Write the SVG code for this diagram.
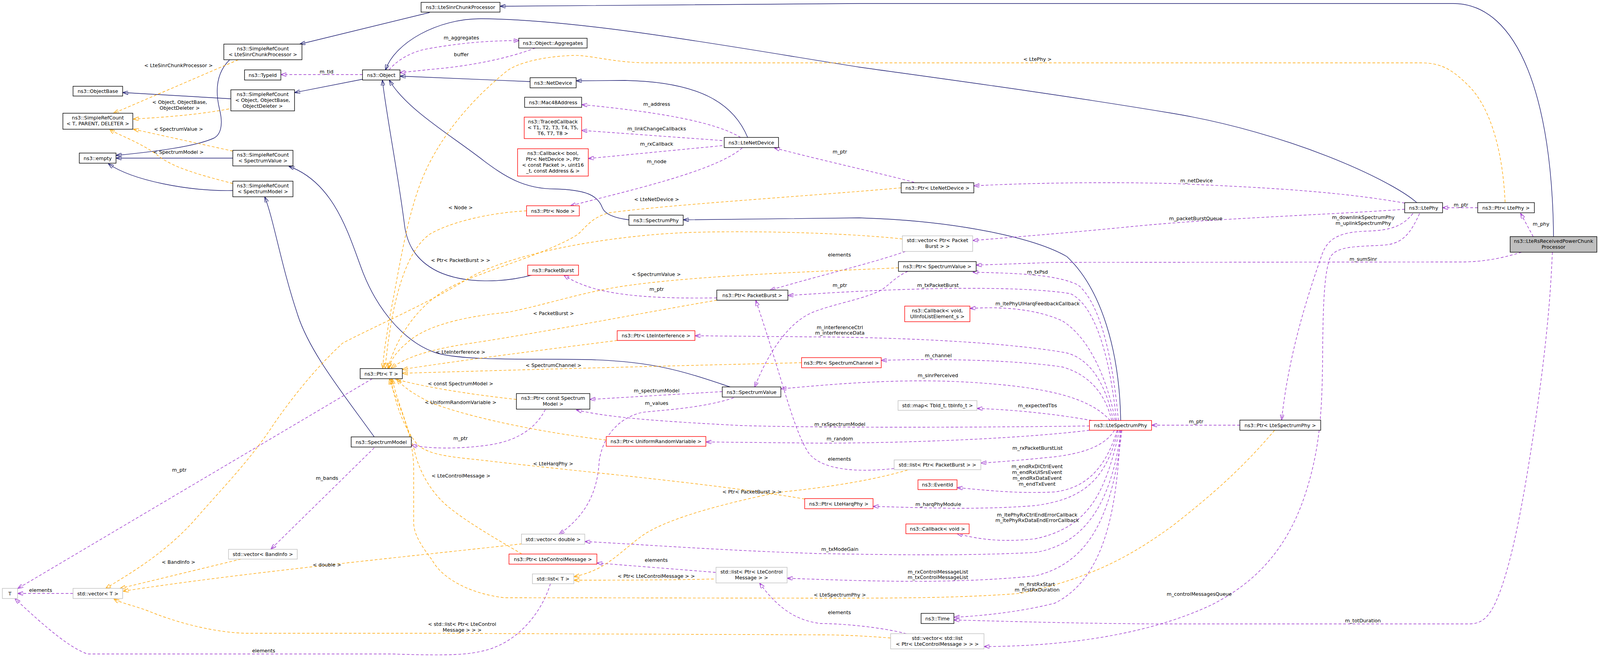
<svg xmlns="http://www.w3.org/2000/svg" width="4251" height="1693" viewBox="0 0 4251 1693">
<style>
text{font-family:"DejaVu Sans","Liberation Sans",sans-serif;font-size:12.7px;fill:#000;text-anchor:middle}
rect{fill:#fff;stroke-width:1.4}
.nb{stroke:#000}
.nr{stroke:#ff0000}
.ng{stroke:#bfbfbf}
.root{fill:#bfbfbf;stroke:#000}
path{fill:none;stroke-width:1.4}
.i{stroke:#191970;marker-end:url(#ai)}
.u{stroke:#9a32cd;stroke-dasharray:7,5;marker-end:url(#au)}
.t{stroke:#ffa500;stroke-dasharray:7,5;marker-end:url(#at)}
</style>
<defs>
<marker id="ai" markerWidth="14" markerHeight="10" refX="13" refY="5" orient="auto" markerUnits="userSpaceOnUse"><path d="M0,0L14,5L0,10z" fill="#191970" stroke="#191970" stroke-width="1"/></marker>
<marker id="au" markerWidth="14" markerHeight="10" refX="13" refY="5" orient="auto" markerUnits="userSpaceOnUse"><path d="M0,0L14,5L0,10z" fill="#9a32cd" stroke="#9a32cd" stroke-width="1"/></marker>
<marker id="at" markerWidth="14" markerHeight="10" refX="13" refY="5" orient="auto" markerUnits="userSpaceOnUse"><path d="M0,0L14,5L0,10z" fill="#ffa500" stroke="#ffa500" stroke-width="1"/></marker>
</defs>
<rect x="0" y="0" width="4251" height="1693" style="fill:#fff;stroke:none"/>
<g id="connectors">
<!-- inheritance -->
<path class="i" d="M3977,606 C3974,260 3890,9 3720,9 L2200,9 L1281,16"/>
<path class="i" d="M1100,32 L768,113"/>
<path class="i" d="M588,153 C555,185 550,230 562,280 C572,320 565,345 547,354 C500,375 400,388 298,398"/>
<path class="i" d="M591,253 L315,237"/>
<path class="i" d="M928,203 L755,237"/>
<path class="i" d="M596,405 L298,405"/>
<path class="i" d="M596,488 C480,490 340,462 278,420"/>
<path class="i" d="M1357,209 L1025,195"/>
<path class="i" d="M1914,352 C1880,270 1800,210 1600,206 L1476,207"/>
<path class="i" d="M3627,519 C3560,460 3300,340 3000,290 C2700,240 2400,200 2200,172 C1900,125 1500,50 1233,48 C1120,47 1010,110 987,179"/>
<path class="i" d="M1610,563 C1570,558 1548,548 1542,532 C1530,500 1500,486 1420,484 C1340,484 1290,450 1240,413 C1160,350 1040,280 997,206"/>
<path class="i" d="M2869,1077 C2866,900 2820,740 2731,657 C2650,610 2450,565 2200,558 L1750,563"/>
<path class="i" d="M1364,704 C1290,724 1190,728 1120,695 C1060,665 1042,620 1036,580 C1020,450 990,300 979,206"/>
<path class="i" d="M1869,991 C1760,955 1680,925 1502,921 C1350,918 1200,925 1120,905 C1040,880 970,800 930,700 C895,610 860,470 740,426"/>
<path class="i" d="M958,1119 C880,1010 790,900 760,800 C720,680 700,560 678,505"/>
<!-- usage -->
<path class="u" d="M928,191 L720,191"/>
<path class="u" d="M996,179 C1020,150 1060,130 1100,124 C1180,110 1250,104 1328,104"/>
<path class="u" d="M1370,123 C1300,150 1200,170 1100,178 L1025,186"/>
<path class="u" d="M1896,352 C1840,318 1720,290 1490,268"/>
<path class="u" d="M1849,360 L1490,334"/>
<path class="u" d="M1849,373 L1507,406"/>
<path class="u" d="M1900,379 C1830,440 1600,490 1461,527"/>
<path class="u" d="M2340,467 C2280,450 2100,410 1983,379"/>
<path class="u" d="M3596,520 C3450,495 3300,482 3000,470 C2800,465 2600,470 2494,476"/>
<path class="u" d="M3596,536 C3400,550 3100,560 2900,580 C2750,595 2600,607 2491,616"/>
<path class="u" d="M3617,547 C3590,580 3560,590 3500,592 C3430,594 3400,610 3385,650 C3350,750 3300,900 3281,1075"/>
<path class="u" d="M3634,547 C3610,600 3590,625 3540,628 C3470,632 3420,630 3405,660 C3390,700 3387,780 3386,900 C3385,1050 3380,1150 3340,1270 C3290,1420 3200,1500 3100,1550 C2950,1620 2750,1655 2520,1656"/>
<path class="u" d="M3925,606 L3893,547"/>
<path class="u" d="M3783,532 L3694,532"/>
<path class="u" d="M3895,646 C3850,660 3800,671 3740,671 L2700,672 L2500,679"/>
<path class="u" d="M3974,646 C3968,800 3950,950 3925,1116 C3900,1280 3870,1450 3830,1540 C3810,1585 3790,1598 3760,1598 L3000,1598 C2800,1598 2600,1592 2443,1588"/>
<path class="u" d="M2863,1077 C2850,930 2820,780 2760,730 C2700,700 2580,700 2491,697"/>
<path class="u" d="M2858,1077 C2840,900 2800,780 2740,752 C2600,730 2300,737 2018,757"/>
<path class="u" d="M2855,1077 C2830,950 2780,860 2720,822 C2650,790 2560,785 2484,790"/>
<path class="u" d="M2850,1077 C2830,980 2790,920 2731,904 C2600,880 2350,865 2100,863 L1780,860"/>
<path class="u" d="M2846,1077 C2830,1010 2790,960 2720,940 C2600,922 2400,918 2257,923"/>
<path class="u" d="M2842,1077 C2800,1030 2720,1000 2560,985 C2400,970 2250,972 2000,996"/>
<path class="u" d="M2795,1077 C2700,1060 2600,1050 2502,1046"/>
<path class="u" d="M2789,1091 C2500,1095 2100,1096 1900,1090 C1700,1080 1560,1070 1476,1050"/>
<path class="u" d="M2789,1102 C2600,1125 2300,1135 2100,1135 L1808,1132"/>
<path class="u" d="M2853,1102 C2830,1140 2780,1160 2700,1170 C2620,1178 2560,1183 2512,1186"/>
<path class="u" d="M2860,1102 C2830,1200 2780,1250 2700,1260 C2600,1265 2520,1255 2451,1249"/>
<path class="u" d="M2862,1102 C2830,1240 2760,1280 2650,1295 C2500,1307 2350,1300 2236,1297"/>
<path class="u" d="M2866,1102 C2830,1260 2790,1350 2650,1380 C2560,1390 2500,1380 2451,1367"/>
<path class="u" d="M2870,1102 C2850,1250 2800,1390 2650,1415 C2450,1425 2250,1420 2100,1418 C1850,1410 1650,1395 1498,1387"/>
<path class="u" d="M2872,1102 C2850,1300 2800,1440 2650,1475 C2450,1495 2250,1490 2016,1481"/>
<path class="u" d="M2868,1102 C2860,1300 2830,1480 2700,1545 C2600,1570 2500,1578 2443,1581"/>
<path class="u" d="M3174,1089 L2949,1089"/>
<path class="u" d="M1835,763 C1700,765 1580,760 1502,733 C1470,722 1455,712 1444,705"/>
<path class="u" d="M2318,644 C2230,675 2100,705 1972,743"/>
<path class="u" d="M2289,1200 C2180,1212 2100,1200 2070,1160 C2030,1100 2000,960 1935,770"/>
<path class="u" d="M2324,695 C2285,712 2270,740 2243,749 C2200,768 2130,780 2080,800 C2010,830 1960,920 1932,991"/>
<path class="u" d="M1849,1003 L1511,1023"/>
<path class="u" d="M1878,1019 C1800,1045 1700,1050 1645,1056 C1590,1068 1545,1110 1534,1180 C1530,1260 1500,1320 1432,1368"/>
<path class="u" d="M1396,1049 C1370,1100 1320,1130 1250,1140 C1180,1150 1100,1150 1054,1140"/>
<path class="u" d="M1832,1466 L1529,1442"/>
<path class="u" d="M2320,1623 C2250,1605 2150,1597 2100,1597 C2050,1590 2000,1570 1945,1494"/>
<path class="u" d="M958,1147 L694,1406"/>
<path class="u" d="M953,970 L46,1507"/>
<path class="u" d="M187,1520 L46,1520"/>
<path class="u" d="M1409,1495 C1390,1560 1330,1650 1228,1669 C1180,1680 1100,1678 1003,1675 L224,1675 C180,1660 120,1610 39,1534"/>
<!-- template -->
<path class="t" d="M610,153 L291,290"/>
<path class="t" d="M586,279 C500,295 420,300 342,305"/>
<path class="t" d="M596,387 L342,331"/>
<path class="t" d="M596,470 C520,450 440,430 400,395 C350,360 300,345 281,331"/>
<path class="t" d="M3853,518 C3848,400 3820,280 3760,220 C3720,180 3690,161 3640,161 L1661,161 C1570,161 1510,140 1465,142 C1390,145 1330,160 1300,180 C1200,260 1120,360 1080,460 C1040,560 1020,700 1000,800 C990,860 982,900 980,943"/>
<path class="t" d="M2307,481 C2100,500 1700,525 1560,545 C1520,555 1505,575 1480,600 C1400,650 1250,690 1166,729 C1080,770 1020,850 993,943"/>
<path class="t" d="M1348,540 C1250,545 1150,570 1100,600 C1030,650 1000,800 986,943"/>
<path class="t" d="M1835,769 C1650,800 1400,850 1200,880 C1100,895 1040,915 1002,942"/>
<path class="t" d="M2300,686 C2100,695 1800,705 1617,730 C1500,745 1420,775 1300,800 C1170,812 1080,840 1040,880 C1010,905 1000,925 996,943"/>
<path class="t" d="M1580,872 C1400,895 1200,920 1031,946"/>
<path class="t" d="M2052,929 C1800,935 1400,945 1031,956"/>
<path class="t" d="M1322,1023 C1200,1010 1080,990 1013,971"/>
<path class="t" d="M1552,1127 C1400,1110 1200,1070 1100,1030 C1060,1010 1030,990 1017,971"/>
<path class="t" d="M2060,1278 C1800,1235 1500,1210 1228,1178 C1150,1170 1100,1165 1070,1140 C1035,1100 1010,1030 1001,971"/>
<path class="t" d="M1336,1419 C1270,1380 1200,1340 1150,1300 C1100,1260 1070,1200 1060,1150 C1040,1080 1015,1020 1004,971"/>
<path class="t" d="M3263,1102 C3180,1200 3100,1270 3000,1348 C2900,1420 2800,1480 2610,1520 C2450,1532 2300,1532 2100,1532 L1291,1531 C1200,1520 1130,1480 1106,1434 C1080,1400 1060,1370 1059,1340 L1059,1200 C1058,1100 1010,1020 997,971"/>
<path class="t" d="M617,1432 L308,1507"/>
<path class="t" d="M1336,1393 C1000,1430 600,1470 316,1514"/>
<path class="t" d="M2310,612 C2150,595 1900,590 1750,596 C1550,605 1300,650 1194,716 C1100,775 950,840 877,879 C800,950 740,1030 701,1086 C640,1180 560,1260 500,1330 C420,1420 330,1470 271,1507"/>
<path class="t" d="M2280,1634 C2200,1628 2150,1626 2100,1626 L1100,1622 L631,1622 C540,1620 440,1590 380,1565 C340,1550 310,1545 292,1534"/>
<path class="t" d="M2323,1204 C2200,1240 2050,1255 1993,1261 C1850,1290 1700,1330 1640,1375 C1580,1420 1550,1460 1470,1477"/>
<path class="t" d="M1827,1483 C1700,1486 1550,1486 1470,1486"/>
<!-- labels -->
<text x="457" y="172">&lt; LteSinrChunkProcessor &gt;</text>
<text x="836" y="188">m_tid</text>
<text x="460" y="266">&lt; Object, ObjectBase,</text>
<text x="460" y="281">ObjectDeleter &gt;</text>
<text x="457" y="335">&lt; SpectrumValue &gt;</text>
<text x="457" y="394">&lt; SpectrumModel &gt;</text>
<text x="1181" y="101">m_aggregates</text>
<text x="1181" y="144">buffer</text>
<text x="2656" y="156">&lt; LtePhy &gt;</text>
<text x="1681" y="271">m_address</text>
<text x="1681" y="334">m_linkChangeCallbacks</text>
<text x="1681" y="373">m_rxCallback</text>
<text x="1681" y="418">m_node</text>
<text x="2150" y="393">m_ptr</text>
<text x="1179" y="536">&lt; Node &gt;</text>
<text x="1681" y="515">&lt; LteNetDevice &gt;</text>
<text x="3063" y="467">m_netDevice</text>
<text x="3061" y="564">m_packetBurstQueue</text>
<text x="3740" y="529">m_ptr</text>
<text x="3945" y="578">m_phy</text>
<text x="3490" y="561">m_downlinkSpectrumPhy</text>
<text x="3490" y="576">m_uplinkSpectrumPhy</text>
<text x="3490" y="668">m_sumSinr</text>
<text x="1179" y="671">&lt; Ptr&lt; PacketBurst &gt; &gt;</text>
<text x="1680" y="707">&lt; SpectrumValue &gt;</text>
<text x="1681" y="745">m_ptr</text>
<text x="1417" y="807">&lt; PacketBurst &gt;</text>
<text x="1179" y="906">&lt; LteInterference &gt;</text>
<text x="1417" y="940">&lt; SpectrumChannel &gt;</text>
<text x="1179" y="987">&lt; const SpectrumModel &gt;</text>
<text x="1681" y="1005">m_spectrumModel</text>
<text x="1681" y="1037">m_values</text>
<text x="1179" y="1035">&lt; UniformRandomVariable &gt;</text>
<text x="1179" y="1127">m_ptr</text>
<text x="459" y="1208">m_ptr</text>
<text x="837" y="1229">m_bands</text>
<text x="457" y="1444">&lt; BandInfo &gt;</text>
<text x="837" y="1451">&lt; double &gt;</text>
<text x="104" y="1516">elements</text>
<text x="675" y="1671">elements</text>
<text x="1416" y="1192">&lt; LteHarqPhy &gt;</text>
<text x="1180" y="1223">&lt; LteControlMessage &gt;</text>
<text x="1925" y="1264">&lt; Ptr&lt; PacketBurst &gt; &gt;</text>
<text x="1680" y="1439">elements</text>
<text x="1680" y="1480">&lt; Ptr&lt; LteControlMessage &gt; &gt;</text>
<text x="1183" y="1603">&lt; std::list&lt; Ptr&lt; LteControl</text>
<text x="1183" y="1618">Message &gt; &gt; &gt;</text>
<text x="2150" y="1528">&lt; LteSpectrumPhy &gt;</text>
<text x="2149" y="657">elements</text>
<text x="2150" y="735">m_ptr</text>
<text x="2656" y="701">m_txPsd</text>
<text x="2401" y="735">m_txPacketBurst</text>
<text x="2656" y="782">m_ltePhyUlHarqFeedbackCallback</text>
<text x="2150" y="843">m_interferenceCtrl</text>
<text x="2150" y="857">m_interferenceData</text>
<text x="2402" y="915">m_channel</text>
<text x="2401" y="966">m_sinrPerceived</text>
<text x="2656" y="1043">m_expectedTbs</text>
<text x="2150" y="1091">m_rxSpectrumModel</text>
<text x="2150" y="1128">m_random</text>
<text x="2656" y="1152">m_rxPacketBurstList</text>
<text x="2149" y="1180">elements</text>
<text x="2655" y="1199">m_endRxDlCtrlEvent</text>
<text x="2655" y="1214">m_endRxUlSrsEvent</text>
<text x="2655" y="1229">m_endRxDataEvent</text>
<text x="2655" y="1244">m_endTxEvent</text>
<text x="2402" y="1296">m_harqPhyModule</text>
<text x="2655" y="1323">m_ltePhyRxCtrlEndErrorCallback</text>
<text x="2655" y="1337">m_ltePhyRxDataEndErrorCallback</text>
<text x="2150" y="1411">m_txModeGain</text>
<text x="2401" y="1469">m_rxControlMessageList</text>
<text x="2401" y="1483">m_txControlMessageList</text>
<text x="2655" y="1501">m_firstRxStart</text>
<text x="2655" y="1515">m_firstRxDuration</text>
<text x="2149" y="1573">elements</text>
<text x="3070" y="1526">m_controlMessagesQueue</text>
<text x="3489" y="1594">m_totDuration</text>
<text x="3062" y="1084">m_ptr</text>
</g>
<g id="n_root"><rect class="root" x="3866" y="606" width="222" height="40"/><text x="3977" y="621.5">ns3::LteRsReceivedPowerChunk</text><text x="3977" y="636.5">Processor</text></g>
<g id="n_ltesinr"><rect class="nb" x="1078" y="6" width="202" height="25"/><text x="1179" y="23">ns3::LteSinrChunkProcessor</text></g>
<g id="n_src_ltesinr"><rect class="nb" x="573" y="113" width="200" height="40"/><text x="673" y="128.5">ns3::SimpleRefCount</text><text x="673" y="143.5">&lt; LteSinrChunkProcessor &gt;</text></g>
<g id="n_typeid"><rect class="nb" x="626" y="179" width="93" height="26"/><text x="672.5" y="196.5">ns3::TypeId</text></g>
<g id="n_object"><rect class="nb" x="928" y="179" width="96" height="26"/><text x="976" y="196.5">ns3::Object</text></g>
<g id="n_objectbase"><rect class="nb" x="187" y="221" width="127" height="25"/><text x="250.5" y="238">ns3::ObjectBase</text></g>
<g id="n_src_object"><rect class="nb" x="591" y="230" width="163" height="54"/><text x="672.5" y="245.5">ns3::SimpleRefCount</text><text x="672.5" y="260.5">&lt; Object, ObjectBase,</text><text x="672.5" y="275.5">ObjectDeleter &gt;</text></g>
<g id="n_src_t"><rect class="nb" x="161" y="290" width="179" height="41"/><text x="250.5" y="305.5">ns3::SimpleRefCount</text><text x="250.5" y="320.5">&lt; T, PARENT, DELETER &gt;</text></g>
<g id="n_empty"><rect class="nb" x="203" y="392" width="94" height="26"/><text x="250" y="409.5">ns3::empty</text></g>
<g id="n_src_sv"><rect class="nb" x="596" y="385" width="154" height="40"/><text x="673" y="400.5">ns3::SimpleRefCount</text><text x="673" y="415.5">&lt; SpectrumValue &gt;</text></g>
<g id="n_src_sm"><rect class="nb" x="596" y="464" width="154" height="40"/><text x="673" y="479.5">ns3::SimpleRefCount</text><text x="673" y="494.5">&lt; SpectrumModel &gt;</text></g>
<g id="n_aggregates"><rect class="nb" x="1328" y="98" width="175" height="25"/><text x="1415.5" y="115">ns3::Object::Aggregates</text></g>
<g id="n_netdevice"><rect class="nb" x="1357" y="199" width="118" height="26"/><text x="1416" y="216.5">ns3::NetDevice</text></g>
<g id="n_mac48"><rect class="nb" x="1343" y="249" width="146" height="26"/><text x="1416" y="266.5">ns3::Mac48Address</text></g>
<g id="n_traced"><rect class="nr" x="1342" y="300" width="147" height="55"/><text x="1415.5" y="315.5">ns3::TracedCallback</text><text x="1415.5" y="330.5">&lt; T1, T2, T3, T4, T5,</text><text x="1415.5" y="345.5">T6, T7, T8 &gt;</text></g>
<g id="n_cbbool"><rect class="nr" x="1325" y="381" width="181" height="70"/><text x="1415.5" y="396.5">ns3::Callback&lt; bool,</text><text x="1415.5" y="411.5">Ptr&lt; NetDevice &gt;, Ptr</text><text x="1415.5" y="426.5">&lt; const Packet &gt;, uint16</text><text x="1415.5" y="441.5">_t, const Address &amp; &gt;</text></g>
<g id="n_ltenetdevice"><rect class="nb" x="1854" y="352" width="139" height="26"/><text x="1923.5" y="369.5">ns3::LteNetDevice</text></g>
<g id="n_ptrnode"><rect class="nr" x="1348" y="527" width="135" height="26"/><text x="1415.5" y="544.5">ns3::Ptr&lt; Node &gt;</text></g>
<g id="n_spectrumphy"><rect class="nb" x="1610" y="551" width="139" height="26"/><text x="1679.5" y="568.5">ns3::SpectrumPhy</text></g>
<g id="n_ptrltenetdevice"><rect class="nb" x="2307" y="468" width="186" height="26"/><text x="2400" y="485.5">ns3::Ptr&lt; LteNetDevice &gt;</text></g>
<g id="n_ltephy"><rect class="nb" x="3596" y="519" width="97" height="26"/><text x="3644.5" y="536.5">ns3::LtePhy</text></g>
<g id="n_ptrltephy"><rect class="nb" x="3783" y="519" width="145" height="26"/><text x="3855.5" y="536.5">ns3::Ptr&lt; LtePhy &gt;</text></g>
<g id="n_packetburst"><rect class="nr" x="1351" y="679" width="130" height="26"/><text x="1416" y="696.5">ns3::PacketBurst</text></g>
<g id="n_ptrpacketburst"><rect class="nb" x="1835" y="743" width="182" height="26"/><text x="1926" y="760.5">ns3::Ptr&lt; PacketBurst &gt;</text></g>
<g id="n_ptrlteinterference"><rect class="nr" x="1580" y="847" width="199" height="25"/><text x="1679.5" y="864">ns3::Ptr&lt; LteInterference &gt;</text></g>
<g id="n_ptrconstsm"><rect class="nb" x="1322" y="1008" width="188" height="40"/><text x="1416" y="1023.5">ns3::Ptr&lt; const Spectrum</text><text x="1416" y="1038.5">Model &gt;</text></g>
<g id="n_spectrumvalue"><rect class="nb" x="1849" y="991" width="150" height="26"/><text x="1924" y="1008.5">ns3::SpectrumValue</text></g>
<g id="n_ptrurv"><rect class="nr" x="1552" y="1118" width="255" height="25"/><text x="1679.5" y="1135">ns3::Ptr&lt; UniformRandomVariable &gt;</text></g>
<g id="n_ptrt"><rect class="nb" x="922" y="944" width="108" height="26"/><text x="976" y="961.5">ns3::Ptr&lt; T &gt;</text></g>
<g id="n_spectrummodel"><rect class="nb" x="899" y="1119" width="154" height="26"/><text x="976" y="1136.5">ns3::SpectrumModel</text></g>
<g id="n_t"><rect class="ng" x="6" y="1507" width="39" height="26"/><text x="25.5" y="1524.5">T</text></g>
<g id="n_vectort"><rect class="ng" x="187" y="1507" width="127" height="26"/><text x="250.5" y="1524.5">std::vector&lt; T &gt;</text></g>
<g id="n_vectorbandinfo"><rect class="ng" x="585" y="1407" width="176" height="25"/><text x="673" y="1424">std::vector&lt; BandInfo &gt;</text></g>
<g id="n_vectordouble"><rect class="ng" x="1335" y="1368" width="162" height="26"/><text x="1416" y="1385.5">std::vector&lt; double &gt;</text></g>
<g id="n_ptrltecontrolmessage"><rect class="nr" x="1303" y="1419" width="225" height="26"/><text x="1415.5" y="1436.5">ns3::Ptr&lt; LteControlMessage &gt;</text></g>
<g id="n_listt"><rect class="ng" x="1363" y="1470" width="106" height="25"/><text x="1416" y="1487">std::list&lt; T &gt;</text></g>
<g id="n_listptrlcm"><rect class="ng" x="1833" y="1453" width="182" height="40"/><text x="1924" y="1468.5">std::list&lt; Ptr&lt; LteControl</text><text x="1924" y="1483.5">Message &gt; &gt;</text></g>
<g id="n_vectorptrpb"><rect class="ng" x="2310" y="604" width="180" height="40"/><text x="2400" y="619.5">std::vector&lt; Ptr&lt; Packet</text><text x="2400" y="634.5">Burst &gt; &gt;</text></g>
<g id="n_ptrspectrumvalue"><rect class="nb" x="2300" y="670" width="199" height="25"/><text x="2399.5" y="687">ns3::Ptr&lt; SpectrumValue &gt;</text></g>
<g id="n_cbvoidul"><rect class="nr" x="2316" y="784" width="167" height="40"/><text x="2399.5" y="799.5">ns3::Callback&lt; void,</text><text x="2399.5" y="814.5">UlInfoListElement_s &gt;</text></g>
<g id="n_ptrspectrumchannel"><rect class="nr" x="2052" y="916" width="204" height="26"/><text x="2154" y="933.5">ns3::Ptr&lt; SpectrumChannel &gt;</text></g>
<g id="n_maptbs"><rect class="ng" x="2299" y="1026" width="202" height="25"/><text x="2400" y="1043">std::map&lt; TbId_t, tbInfo_t &gt;</text></g>
<g id="n_ltespectrumphy"><rect class="nr" x="2789" y="1077" width="159" height="25"/><text x="2868.5" y="1094">ns3::LteSpectrumPhy</text></g>
<g id="n_listptrpb"><rect class="ng" x="2289" y="1178" width="222" height="25"/><text x="2400" y="1195">std::list&lt; Ptr&lt; PacketBurst &gt; &gt;</text></g>
<g id="n_eventid"><rect class="nr" x="2350" y="1229" width="100" height="25"/><text x="2400" y="1246">ns3::EventId</text></g>
<g id="n_ptrlteharqphy"><rect class="nr" x="2060" y="1277" width="175" height="26"/><text x="2147.5" y="1294.5">ns3::Ptr&lt; LteHarqPhy &gt;</text></g>
<g id="n_cbvoid"><rect class="nr" x="2319" y="1342" width="162" height="25"/><text x="2400" y="1359">ns3::Callback&lt; void &gt;</text></g>
<g id="n_time"><rect class="nb" x="2358" y="1571" width="84" height="26"/><text x="2400" y="1588.5">ns3::Time</text></g>
<g id="n_vectorlistlcm"><rect class="ng" x="2280" y="1623" width="239" height="39"/><text x="2399.5" y="1638.5">std::vector&lt; std::list</text><text x="2399.5" y="1653.5">&lt; Ptr&lt; LteControlMessage &gt; &gt; &gt;</text></g>
<g id="n_ptrltespectrumphy"><rect class="nb" x="3174" y="1076" width="207" height="26"/><text x="3277.5" y="1093.5">ns3::Ptr&lt; LteSpectrumPhy &gt;</text></g>
</svg>
